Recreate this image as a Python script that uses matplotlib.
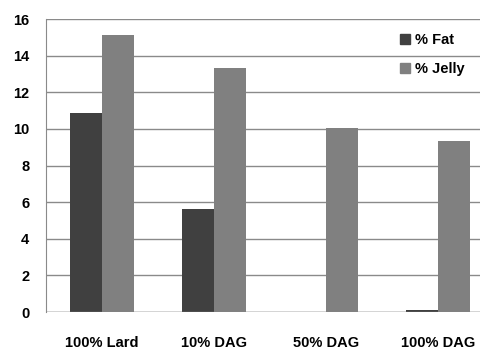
import numpy as np
import matplotlib
matplotlib.use("Agg")
import matplotlib.pyplot as plt
from matplotlib.patches import Patch

categories = ["100% Lard", "10% DAG", "50% DAG", "100% DAG"]
fat = [10.85, 5.63, 0.0, 0.12]
jelly = [15.1, 13.33, 10.07, 9.34]
yticks = [0, 2, 4, 6, 8, 10, 12, 14, 16]

plt.rcParams['font.family'] = ['Liberation Sans', 'DejaVu Sans']
plt.rcParams['font.weight'] = 'bold'

fig = plt.figure(figsize=(4.81, 3.51), dpi=100)
ax = fig.add_axes([46 / 481, 39 / 351, 448 / 481, 293 / 351])

x = np.arange(len(categories))
w = 0.286
ax.bar(x - w / 2, fat, w, color="#404040", zorder=3)
ax.bar(x + w / 2, jelly, w, color="#808080", zorder=3)

ax.set_xlim(-0.5, len(categories) - 0.5)
ax.set_ylim(0, 16)
ax.set_yticks(yticks)
ax.set_xticks(x)
ax.set_xticklabels(categories)
ax.yaxis.grid(True, color="#8a8a8a", linewidth=1.0, zorder=0)
for s in ["top", "right", "bottom"]:
    ax.spines[s].set_visible(False)
ax.spines["left"].set_color("#8a8a8a")
ax.axhline(0, color="#8a8a8a", linewidth=1.0, zorder=4)
ax.tick_params(axis="x", length=0, pad=17, labelsize=10.5)
ax.tick_params(axis="y", length=0, pad=12, labelsize=10.5)

handles = [Patch(color="#404040", label="% Fat"), Patch(color="#808080", label="% Jelly")]
leg = fig.legend(handles=handles, loc="upper left", bbox_to_anchor=(387 / 481, 1 - 20 / 351),
                 frameon=False, fontsize=10.5, handlelength=0.7, handleheight=0.7,
                 handletextpad=0.3, labelspacing=1.05)

fig.savefig("out.png", dpi=100)
